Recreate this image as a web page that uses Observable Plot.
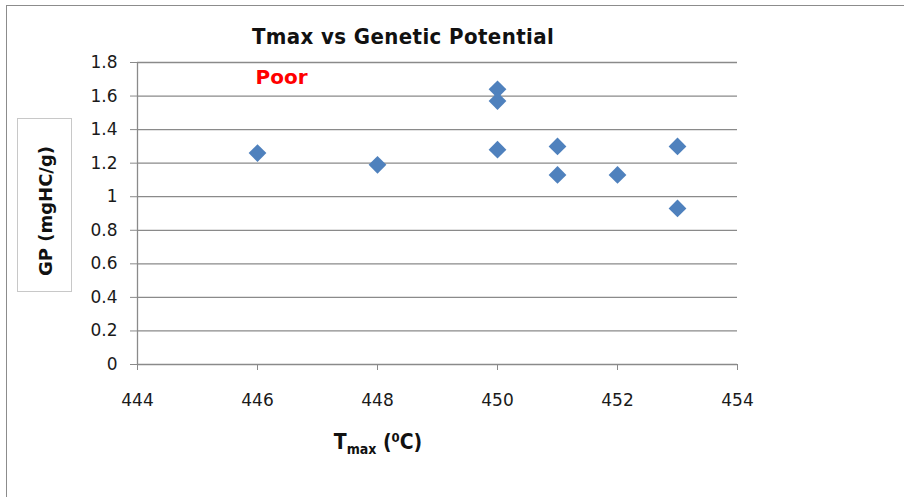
<!DOCTYPE html>
<html>
<head>
<meta charset="utf-8">
<script src="https://cdn.jsdelivr.net/npm/d3@7"></script>
<script src="https://cdn.jsdelivr.net/npm/@observablehq/plot@0.6"></script>
<style>
  html, body { margin: 0; padding: 0; background: #fff; }
  #wrap { position: relative; width: 904px; height: 497px; overflow: hidden; }
  #border { position: absolute; left: 6px; top: 5px; width: 1000px; height: 1000px; border: 1.5px solid #8c8c8c; box-sizing: border-box; }
  #chart { position: absolute; left: 0; top: 0; }
  #title { position: absolute; left: 403px; top: 36px; transform: translate(-50%, -50%);
    font-family: "DejaVu Sans Condensed", "DejaVu Sans", sans-serif; font-stretch: condensed; font-weight: bold; font-size: 22px; color: #111; white-space: nowrap; letter-spacing: 0.4px; }
  #ybox { position: absolute; left: 17px; top: 118px; width: 55px; height: 174px; border: 1px solid #c8c8c8; box-sizing: border-box; background: #fff; }
  #ylabel { position: absolute; left: 45px; top: 211px; transform: translate(-50%, -50%) rotate(-90deg);
    font-family: "DejaVu Sans", sans-serif; font-weight: bold; font-size: 18px; color: #111; white-space: nowrap; }
  #xlabel { position: absolute; left: 378px; top: 443px; transform: translate(-50%, -50%);
    font-family: "DejaVu Sans Condensed", "DejaVu Sans", sans-serif; font-stretch: condensed; font-weight: bold; font-size: 21px; color: #111; white-space: nowrap; }
  #xlabel sub { font-size: 14px; vertical-align: -5px; }
  #xlabel sup { font-size: 13px; vertical-align: 7px; }
</style>
</head>
<body>
<div id="wrap">
  <div id="border"></div>
  <div id="chart"></div>
  <div id="title">Tmax vs Genetic Potential</div>
  <div id="ybox"></div>
  <div id="ylabel">GP (mgHC/g)</div>
  <div id="xlabel">T<sub>max</sub> (<sup>0</sup>C)</div>
</div>
<script>
// Data
const tmax = [446, 448, 450, 450, 450, 451, 451, 452, 453, 453];
const gp   = [1.26, 1.19, 1.64, 1.57, 1.28, 1.30, 1.13, 1.13, 1.30, 0.93];
const xTicks = [444, 446, 448, 450, 452, 454];
const yTicks = [0, 0.2, 0.4, 0.6, 0.8, 1, 1.2, 1.4, 1.6, 1.8];
const annotationText = ["Poor"];
const annotationX = [446.4];
const annotationY = [1.71];

const points = tmax.map((t, i) => ({t, g: gp[i]}));
const notes = annotationText.map((s, i) => ({s, x: annotationX[i], y: annotationY[i]}));
const fmtY = d => String(+d.toFixed(1));

const chart = Plot.plot({
  width: 904,
  height: 497,
  marginLeft: 137,
  marginRight: 167,
  marginTop: 62,
  marginBottom: 133,
  style: {fontFamily: "'DejaVu Sans', sans-serif", fontSize: "17px", color: "#1a1a1a", background: "transparent"},
  x: {domain: [444, 454]},
  y: {domain: [0, 1.8]},
  marks: [
    Plot.ruleY(yTicks.filter(d => d > 0), {stroke: "#8a8a8a", strokeWidth: 1.3, strokeOpacity: 1}),
    Plot.ruleY([0], {stroke: "#8a8a8a", strokeWidth: 1.3}),
    Plot.ruleX([444], {stroke: "#8a8a8a", strokeWidth: 1.3}),
    Plot.axisY({ticks: yTicks, tickFormat: fmtY, tickSize: 7, tickPadding: 13, label: null, stroke: "#8a8a8a", strokeOpacity: 1, fill: "#1a1a1a", style: {letterSpacing: "1px"}}),
    Plot.axisX({ticks: xTicks, tickSize: 6, tickPadding: 23, label: null, stroke: "#8a8a8a", strokeOpacity: 1, fill: "#1a1a1a", style: {letterSpacing: "1.2px"}}),
    Plot.dot(points, {x: "t", y: "g", symbol: "diamond2", r: 8, fill: "#4F81BD", stroke: "none"}),
    Plot.text(notes, {x: "x", y: "y", text: "s", fill: "#ff0000", fontWeight: "bold", fontSize: 20})
  ]
});
document.getElementById("chart").appendChild(chart);
</script>
</body>
</html>
